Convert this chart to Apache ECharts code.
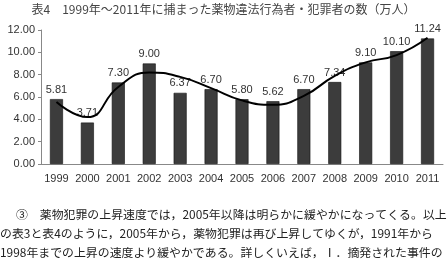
<!DOCTYPE html>
<html><head><meta charset="utf-8">
<script src="https://cdn.jsdelivr.net/npm/echarts@6/dist/echarts.min.js"></script>
<style>html,body{margin:0;padding:0;background:#fff}#c{width:447px;height:259px}</style>
</head><body><div id="c"></div>
<script>
const years = ['1999','2000','2001','2002','2003','2004','2005','2006','2007','2008','2009','2010','2011'];
const counts = [5.81,3.71,7.30,9.00,6.37,6.70,5.80,5.62,6.70,7.34,9.10,10.10,11.24];
const trend = [5.55,4.2,6.9,8.2,7.8,6.8,5.7,5.3,6.1,7.9,9.1,9.75,11.3];
const yTicks = [0,2,4,6,8,10,12];
const titleText = '表4　1999年～2011年に捕まった薬物違法行為者・犯罪者の数（万人）';
const paraLines = [
  '③　薬物犯罪の上昇速度では，2005年以降は明らかに緩やかになってくる。以上',
  'の表3と表4のように，2005年から，薬物犯罪は再び上昇してゆくが，1991年から',
  '1998年までの上昇の速度より緩やかである。詳しくいえば，Ⅰ．摘発された事件の'
];
const chart = echarts.init(document.getElementById('c'));
chart.setOption({
  animation:false,
  graphic:[
    {type:'text',left:'center',top:3,style:{text:titleText,font:'12px "Noto Sans CJK JP"',fill:'#444'}},
    {type:'text',left:16,top:209,style:{text:paraLines[0],font:'11.9px "Noto Sans CJK JP"',fill:'#222'}},
    {type:'text',left:0,top:228,style:{text:paraLines[1],font:'11.9px "Noto Sans CJK JP"',fill:'#222'}},
    {type:'text',left:0,top:247,style:{text:paraLines[2],font:'11.9px "Noto Sans CJK JP"',fill:'#222'}}
  ],
  grid:{left:41,right:4,top:30,bottom:95},
  xAxis:{type:'category',data:years,
    axisLine:{lineStyle:{color:'#888'}},
    axisTick:{inside:true,length:4,lineStyle:{color:'#888'}},
    axisLabel:{interval:0,color:'#333',fontSize:11,fontFamily:'Liberation Sans, Arial',margin:9}},
  yAxis:{type:'value',min:0,max:12,interval:2,
    splitLine:{show:false},
    axisLine:{show:true,lineStyle:{color:'#888'}},
    axisTick:{show:true,length:3,lineStyle:{color:'#888'}},
    axisLabel:{color:'#333',fontSize:11,fontFamily:'Liberation Sans, Arial',margin:6,
      formatter:v=>yTicks.includes(v)?v.toFixed(2):''}},
  series:[
    {type:'bar',data:counts,barWidth:13,
      itemStyle:{color:'#3c3c3c',borderColor:'#111',borderWidth:0.6},
      label:{show:true,position:'top',distance:4,color:'#333',fontSize:11,fontFamily:'Liberation Sans, Arial',
        formatter:p=>p.value.toFixed(2)}},
    {type:'line',data:trend,smooth:0.5,showSymbol:false,symbol:'none',
      lineStyle:{color:'#000',width:2},z:5}
  ]
});
</script></body></html>
